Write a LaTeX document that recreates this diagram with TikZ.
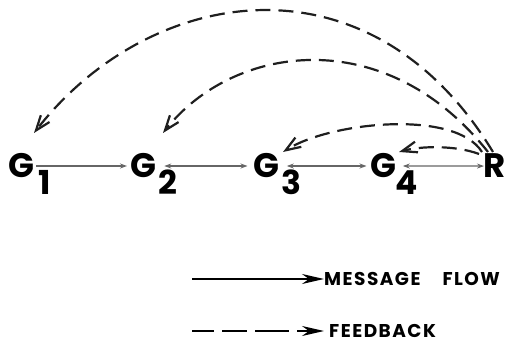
\documentclass[tikz,border=0pt]{standalone}
\usepackage{fontspec}
\setmainfont{Poppins}
\newfontfamily\legfont{Poppins}[LetterSpace=8]
\usetikzlibrary{arrows.meta}
\begin{document}
\begin{tikzpicture}[x=1pt,y=1pt,
  glet/.style={inner sep=0pt,anchor=base west,font=\fontsize{34}{34}\selectfont\bfseries},
  gsub/.style={inner sep=0pt,anchor=base west,font=\fontsize{33}{33}\selectfont\bfseries},
  msg/.style={draw=black!60,line width=1.2pt,-{Stealth[length=7pt,width=5pt]}},
  msgboth/.style={draw=black!60,line width=1.2pt,{Stealth[length=7pt,width=5pt]}-{Stealth[length=7pt,width=5pt]}},
  fb/.style={draw=black!88,line width=2.2pt,dash pattern=on 15pt off 8pt,-{Straight Barb[length=15pt,width=11pt,line width=2.2pt]}},
  legline/.style={line width=1.8pt,-{Stealth[length=22pt,width=10pt,inset=7pt]}},
  legtext/.style={inner sep=0pt,anchor=base west,font=\legfont\fontsize{18.5}{19}\selectfont\bfseries}]
\useasboundingbox (0,0) rectangle (505,344);
% nodes
\node[glet] (g1) at (8,166) {G};
\node[gsub] (s1) at (38,149) {1};
\node[glet] (g2) at (130,166) {G};
\node[gsub] (s2) at (158,149) {2};
\node[glet] (g3) at (253.5,166) {G};
\node[gsub] (s3) at (281,149) {3};
\node[glet] (g4) at (370.5,166) {G};
\node[gsub] (s4) at (395,149) {4};
\node[glet] (r) at (483,166) {R};
% message flow
\draw[msg] ([xshift=2pt]g1.east) -- ([xshift=-3pt]g2.west);
\draw[msgboth] ([xshift=8pt]g2.east) -- ([xshift=-6pt]g3.west);
\draw[msgboth] ([xshift=7pt]g3.east) -- ([xshift=-4pt]g4.west);
\draw[msgboth] ([xshift=6pt]g4.east) -- ([xshift=1pt]r.west);
% feedback anchors
\coordinate (r1) at (493,192);
\coordinate (r2) at (488,192);
\coordinate (r3) at (482,192);
\coordinate (r4) at (479,190);
\coordinate (t1) at (34,211);
\coordinate (t2) at (163,211);
\coordinate (t3) at (283,192);
\coordinate (t4) at (399,192);
\draw[fb] (r1) .. controls (370,395) and (150,360) .. (t1);
\draw[fb] (r2) .. controls (385,322) and (233,300) .. (t2);
\draw[fb] (r3) .. controls (455,235) and (330,222) .. (t3);
\draw[fb] (r4) .. controls (455,199) and (420,198) .. (t4);
% legend
\node[legtext] (lm) at (324,58) {MESSAGE\hspace{22pt}FLOW};
\coordinate (la) at (192,65);
\draw[legline] (la) -- (lm.west |- la);
\node[legtext] (lf) at (329,6) {FEEDBACK};
\coordinate (lb) at (192,13);
\draw[legline,dash pattern=on 22pt off 8pt on 25pt off 8pt on 34pt off 8pt] (lb) -- ([xshift=-5pt]lf.west |- lb);
\end{tikzpicture}
\end{document}
